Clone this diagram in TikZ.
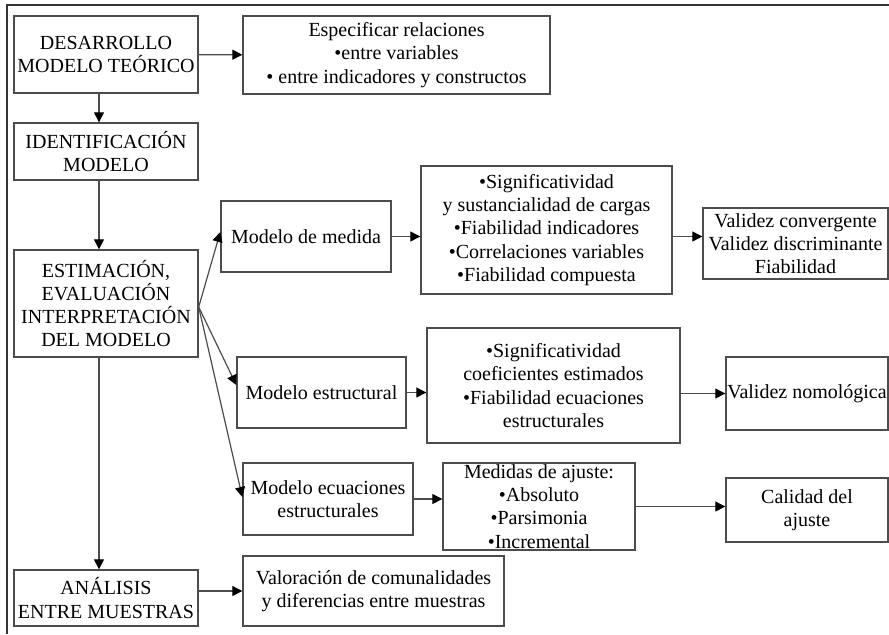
\documentclass[tikz,border=0pt]{standalone}
\RequirePackage{fontspec}
\RequirePackage{tikz}
\usetikzlibrary{calc}
\usetikzlibrary{arrows.meta}

\setmainfont{Liberation Serif}

\begin{document}
\begin{tikzpicture}[x=0.5pt,y=-0.5pt,
        caja/.style={draw=black!70,line width=0.7pt,align=center,inner sep=0pt,
            font=\fontsize{10}{11.6}\selectfont},
        flecha/.style={draw=black!70,line width=0.6pt,-{Triangle[length=5pt,width=5pt,color=black]}}]
                \useasboundingbox (0,0) rectangle (889,634);

                \draw[black!80,line width=1pt] (889,5) -- (7,5) -- (7,634);

                \node[caja,minimum width=92pt,minimum height=38.5pt] (desarrollo) at (106,54.5)
                    {DESARROLLO\\MODELO TEÓRICO};
                \node[caja,minimum width=153.5pt,minimum height=39pt] (especificar) at (396.5,55)
                    {Especificar relaciones\\\textbullet entre variables\\\textbullet{} entre indicadores y constructos};
                \node[caja,minimum width=92pt,minimum height=28.5pt] (identificacion) at (106,151.5)
                    {IDENTIFICACIÓN\\MODELO};
                \node[caja,minimum width=92pt,minimum height=53.5pt] (estimacion) at (106,303.5)
                    {ESTIMACIÓN,\\EVALUACIÓN\\INTERPRETACIÓN\\DEL MODELO};
                \node[caja,minimum width=92pt,minimum height=28pt] (analisis) at (106,598)
                    {ANÁLISIS\\ENTRE MUESTRAS};
                \node[caja,minimum width=130.5pt,minimum height=35pt] (valoracion) at (373.5,591)
                    {Valoración de comunalidades\\y diferencias entre muestras};

                \node[caja,minimum width=85pt,minimum height=35.5pt] (medida) at (306,236.5)
                    {Modelo de medida};
                \node[caja,minimum width=125.5pt,minimum height=64pt] (cargas) at (546.5,230)
                    {\textbullet Significatividad\\y sustancialidad de cargas\\\textbullet Fiabilidad indicadores\\
                     \textbullet Correlaciones variables\\\textbullet Fiabilidad compuesta};
                \node[caja,minimum width=92.5pt,minimum height=35.5pt] (validez) at (795.5,243.5)
                    {Validez convergente\\Validez discriminante\\Fiabilidad};

                \node[caja,minimum width=84.5pt,minimum height=35.5pt] (estructural) at (321.5,392.5)
                    {Modelo estructural};
                \node[caja,minimum width=126.5pt,minimum height=57.5pt] (coeficientes) at (553.5,385.5)
                    {\textbullet Significatividad\\coeficientes estimados\\\textbullet Fiabilidad ecuaciones\\estructurales};
                \node[caja,minimum width=81pt,minimum height=36.5pt] (nomologica) at (807,393.5)
                    {Validez nomológica};

                \node[caja,minimum width=85pt,minimum height=36pt] (ecuaciones) at (328,499)
                    {Modelo ecuaciones\\estructurales};
                \node[caja,minimum width=96pt,minimum height=43.5pt] (ajuste) at (539,506.5)
                    {Medidas de ajuste:\\\textbullet Absoluto\\\textbullet Parsimonia\\\textbullet Incremental};
                \node[caja,minimum width=81pt,minimum height=32pt] (calidad) at (807,510)
                    {Calidad del\\ajuste};

                \draw[flecha] (desarrollo) -- (especificar);
                \draw[flecha] ([xshift=-3.5pt]desarrollo.south) -- ([xshift=-3.5pt]identificacion.north);
                \draw[flecha] ([xshift=-3.5pt]identificacion.south) -- ([xshift=-3.5pt]estimacion.north);
                \draw[flecha] ([xshift=-3.5pt]estimacion.south) -- ([xshift=-3.5pt]analisis.north);
                \draw[flecha] (analisis.east |- valoracion.west) -- (valoracion.west);

                \coordinate (salida) at ([yshift=-1.75pt]estimacion.east);
                \draw[flecha] (salida) -- ([yshift=2.25pt]medida.west);
                \draw[flecha] (salida) -- ([yshift=3.75pt]estructural.west);
                \draw[flecha] (salida) -- ([yshift=1pt]ecuaciones.west);

                \draw[flecha] (medida.east) -- (medida.east -| cargas.west);
                \draw[flecha] (cargas.east |- medida.east) -- (validez.west |- medida.east);
                \draw[flecha] (estructural.east) -- (estructural.east -| coeficientes.west);
                \draw[flecha] (coeficientes.east |- nomologica.west) -- (nomologica.west);
                \draw[flecha] (ecuaciones.east) -- (ecuaciones.east -| ajuste.west);
                \draw[flecha] (ajuste.east) -- (ajuste.east -| calidad.west);
            \end{tikzpicture}
\end{document}
